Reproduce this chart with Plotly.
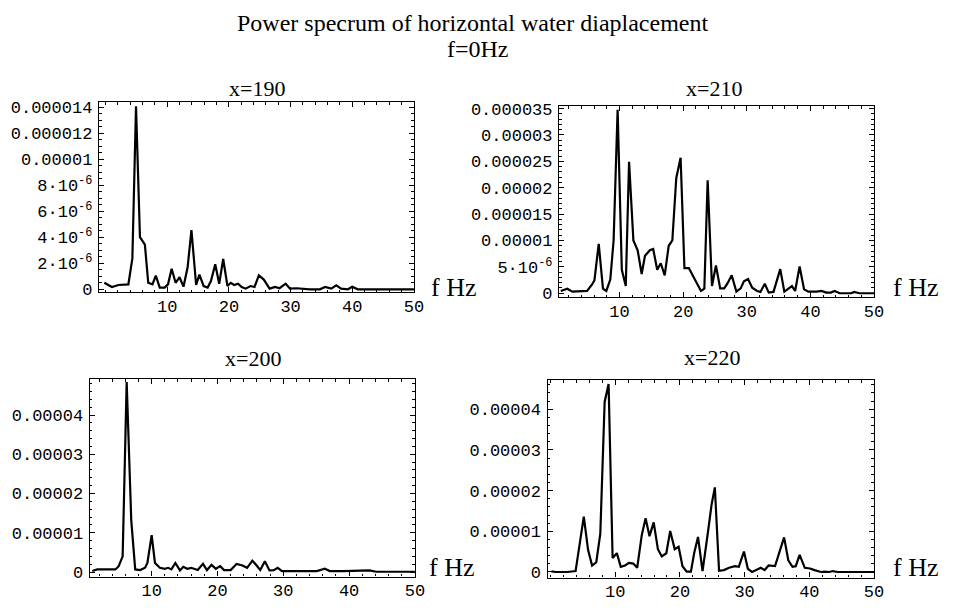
import plotly.graph_objects as go

# ---------------- data ----------------
# x = 190  (power in units of 1e-6)
f190 = [-0.21, 1.02, 2.09, 3.16, 3.69, 4.34, 4.93, 5.57, 6.37, 6.91, 7.6, 8.14, 8.78, 9.58,
        10.12, 10.71, 11.35, 11.99, 12.63, 13.3, 13.92, 14.68, 15.21, 15.9, 16.55, 17.08,
        17.78, 18.42, 19.07, 19.76, 20.3, 20.85, 21.48, 22.07, 22.7, 23.5, 24.15, 24.85,
        25.65, 26.6, 27.5, 28.2, 29.2, 29.9, 31.0, 33.1, 34.75, 35.6, 36.6, 37.4, 38.2,
        39.3, 40.0, 40.9, 50.0]
p190 = [0.50, 0.18, 0.33, 0.33, 0.38, 2.38, 14.1, 4.01, 3.44, 0.50, 0.38, 1.05, 0.13, 0.13,
        0.38, 1.58, 0.50, 0.93, 0.20, 1.70, 4.56, 0.33, 1.13, 0.25, 0.13, 0.63,
        1.93, 0.43, 2.33, 0.25, 0.50, 0.33, 0.43, 0.18, 0.05, 0.25, 0.18, 1.08,
        0.75, 0.05, 0.18, 0.08, 0.43, 0.05, 0.08, 0.0, 0.0, 0.18, 0.05, 0.30, 0.05,
        0.0, 0.20, 0.0, 0.0]

# x = 210  (power in units of 1e-6)
f210 = [0.77, 1.80, 2.58, 4.9, 5.69, 6.06, 6.73, 7.4, 7.92, 8.55, 9.07, 9.7, 10.36, 10.98,
        11.5, 12.18, 12.85, 13.48, 14.0, 14.77, 15.29, 15.92, 16.48, 17.1, 17.73, 18.3,
        18.92, 19.6, 20.2, 20.9, 22.8, 23.33, 23.85, 24.53, 25.15, 25.82, 26.45, 26.96,
        27.63, 28.36, 29.04, 29.55, 30.2, 30.85, 31.63, 32.15, 32.83, 33.45, 34.2, 35.26,
        35.9, 36.56, 37.1, 37.6, 38.3, 39.0, 39.67, 40.97, 41.75, 42.5, 43.2, 43.8, 44.6,
        46.4, 46.9, 47.7, 50.0]
p210 = [0.43, 0.86, 0.31, 0.43, 1.67, 2.47, 9.38, 0.86, 0.43, 2.6, 10.0, 34.8, 4.44, 1.36,
        24.9, 10.0, 8.15, 3.64, 7.1, 8.15, 8.4, 4.44, 5.68, 3.4, 9.0, 10.0,
        21.85, 25.7, 4.75, 4.75, 0.43, 0.86, 21.4, 1.36, 5.25, 0.93, 0.93, 1.85,
        3.4, 0.31, 0.93, 2.28, 2.7, 1.05, 0.43, 0.25, 1.79, 0.12, 0.25, 4.57,
        0.31, 0.86, 1.36, 0.43, 5.06, 0.74, 0.31, 0.31, 0.43, 0.12, 0.12, 0.43, 0.0,
        0.0, 0.25, 0.0, 0.0]

# x = 200  (power in units of 1e-6)
f200 = [0.98, 1.73, 4.49, 4.99, 5.59, 6.2, 6.9, 7.5, 8.25, 9.0, 9.35, 10.0, 10.5, 11.25,
        12.0, 12.5, 13.0, 13.6, 14.3, 14.8, 15.4, 16.0, 17.0, 17.8, 18.4, 19.1, 19.75,
        20.4, 21.0, 22.0, 22.9, 23.8, 24.5, 25.3, 25.95, 26.5, 27.2, 27.9, 28.55, 29.15,
        29.8, 32.05, 34.06, 35.1, 36.3, 37.07, 39.07, 41.1, 43.1, 44.1, 50.0]
p200 = [0.24, 0.66, 0.66, 1.49, 3.98, 48.4, 13.1, 0.66, 0.49, 1.1, 2.3, 9.4, 2.3, 1.07,
        0.82, 1.07, 0.66, 2.3, 0.41, 1.32, 0.82, 1.07, 0.49, 2.07, 0.49, 1.82, 0.82,
        1.49, 0.49, 0.49, 2.07, 1.66, 1.07, 2.9, 1.66, 0.49, 2.73, 0.41, 0.49, 1.07,
        0.24, 0.24, 0.41, 0.24, 0.82, 0.24, 0.24, 0.24, 0.41, 0.07, 0.07]

# x = 220  (power in units of 1e-6)
f220 = [0.16, 0.82, 2.6, 3.88, 5.15, 5.81, 6.43, 7.08, 7.7, 8.37, 8.98, 9.6, 10.26, 10.86,
        11.52, 12.13, 12.8, 13.4, 14.1, 14.7, 15.3, 15.95, 16.6, 17.2, 17.9, 18.5, 19.2,
        19.8, 20.4, 21.05, 21.7, 22.2, 22.8, 23.5, 24.3, 24.9, 25.4, 26.05, 26.8, 27.6,
        28.5, 29.1, 29.9, 30.5, 31.15, 31.9, 32.5, 33.1, 33.7, 34.7, 35.5, 36.1, 36.75,
        37.4, 37.9, 38.5, 39.3, 40.1, 40.8, 41.8, 42.35, 43.1, 43.6, 44.4, 47.5, 48.2,
        48.7, 50.0]
p220 = [0.15, 0.0, 0.0, 0.23, 13.6, 5.43, 1.59, 2.39, 9.4, 41.8, 46.2, 3.43, 4.63, 1.27,
        1.59, 2.23, 2.07, 1.03, 9.0, 13.2, 8.8, 12.2, 5.6, 3.83, 4.6, 10.1, 5.6,
        6.2, 1.43, 0.07, 0.07, 4.6, 8.6, 0.23, 9.4, 16.6, 20.8, 0.31, 0.47, 1.03,
        1.43, 1.27, 5.03, 0.79, 0.0, 0.47, 1.03, 0.47, 1.59, 1.43, 5.27, 8.5, 2.87,
        1.27, 1.43, 4.23, 1.03, 0.87, 0.47, 0.0, 0.07, 0.0, 0.23, 0.0, 0.0, 0.07,
        0.0, 0.0]

UNIT = 1e-6

x_ticks = [10, 20, 30, 40, 50]
x_tick_text = ["10", "20", "30", "40", "50"]

y190_ticks = [0, 2e-6, 4e-6, 6e-6, 8e-6, 1e-5, 1.2e-5, 1.4e-5]
y190_text = ["0", "2·10<sup>-6</sup>", "4·10<sup>-6</sup>", "6·10<sup>-6</sup>",
             "8·10<sup>-6</sup>", "0.00001", "0.000012", "0.000014"]
y210_ticks = [0, 5e-6, 1e-5, 1.5e-5, 2e-5, 2.5e-5, 3e-5, 3.5e-5]
y210_text = ["0", "5·10<sup>-6</sup>", "0.00001", "0.000015", "0.00002",
             "0.000025", "0.00003", "0.000035"]
y200_ticks = [0, 1e-5, 2e-5, 3e-5, 4e-5]
y200_text = ["0", "0.00001", "0.00002", "0.00003", "0.00004"]
y220_ticks = y200_ticks
y220_text = y200_text

main_title = "Power specrum of horizontal water diaplacement"
sub_title = "f=0Hz"
panel_titles = ["x=190", "x=210", "x=200", "x=220"]
axis_label = "f Hz"

# ---------------- figure ----------------
W, H = 954, 610
MONO = "Liberation Mono, Courier New, monospace"
SERIF = "Liberation Serif, Times New Roman, serif"

panels = [
    (f190, p190, (100, 418.3, 98.3, 293.0), [-1.08, 50], [-0.23e-6, 14.42e-6], y190_ticks, y190_text, 0.5e-6),
    (f210, p210, (565, 883.3, 102.7, 298.3), [0.5, 50], [-0.8e-6, 35.43e-6], y210_ticks, y210_text, 1e-6),
    (f200, p200, (90.7, 419.3, 381.7, 584.0), [0.59, 50], [-0.117e-5, 4.92e-5], y200_ticks, y200_text, 2e-6),
    (f220, p220, (553.3, 883.3, 382.7, 585.0), [-0.46, 50], [-0.137e-5, 4.72e-5], y220_ticks, y220_text, 2e-6),
]

layout = dict(
    width=W, height=H, margin=dict(l=0, r=0, t=0, b=0),
    paper_bgcolor="white", plot_bgcolor="white", showlegend=False,
)
traces = []
annotations = []

for i, (fx, py, box, xr, yr, yt, ytt, ymin) in enumerate(panels, start=1):
    x0, x1, yt0, yb0 = box
    xa = "xaxis" if i == 1 else f"xaxis{i}"
    ya = "yaxis" if i == 1 else f"yaxis{i}"
    xref = "x" if i == 1 else f"x{i}"
    yref = "y" if i == 1 else f"y{i}"
    traces.append(go.Scatter(x=fx, y=[v * UNIT for v in py], mode="lines",
                             line=dict(color="black", width=2.2), xaxis=xref, yaxis=yref,
                             hoverinfo="skip"))
    common = dict(showline=True, linecolor="black", linewidth=1.3, mirror="allticks",
                  ticks="inside", ticklen=5, tickwidth=1, tickcolor="black",
                  showgrid=False, zeroline=False, tickfont=dict(family=MONO, size=17, color="black"))
    layout[xa] = dict(domain=[x0 / W, x1 / W], range=xr, anchor=yref,
                      tickvals=x_ticks, ticktext=x_tick_text, ticklabelstandoff=-2,
                      minor=dict(ticks="inside", ticklen=2.5, dtick=2, tick0=0, tickcolor="black"),
                      **common)
    layout[ya] = dict(domain=[1 - yb0 / H, 1 - yt0 / H], range=yr, anchor=xref,
                      tickvals=yt, ticktext=ytt, ticklabelstandoff=2,
                      minor=dict(ticks="inside", ticklen=2.5, dtick=ymin, tick0=0, tickcolor="black"),
                      **common)

fig = go.Figure(data=traces)
fig.update_layout(**layout)

annotations.append(dict(text=main_title, x=477 / W, y=1 - 17 / H, xref="paper", yref="paper",
                        showarrow=False, font=dict(family=SERIF, size=24, color="black"),
                        xanchor="center", yanchor="middle"))
annotations.append(dict(text=sub_title, x=483 / W, y=1 - 44 / H, xref="paper", yref="paper",
                        showarrow=False, font=dict(family=SERIF, size=24, color="black"),
                        xanchor="center", yanchor="middle"))
title_pos = [(260, 84), (722, 84), (256, 361), (720, 360)]
for t, (tx, ty) in zip(panel_titles, title_pos):
    annotations.append(dict(text=t, x=tx / W, y=1 - ty / H, xref="paper", yref="paper",
                            showarrow=False, font=dict(family=SERIF, size=22, color="black"),
                            xanchor="center", yanchor="middle"))
fhz_pos = [(434, 288), (900, 288), (432, 575), (900, 575)]
for (tx, ty) in fhz_pos:
    annotations.append(dict(text=axis_label, x=tx / W, y=1 - ty / H, xref="paper", yref="paper",
                            showarrow=False, font=dict(family=SERIF, size=26, color="black"),
                            xanchor="left", yanchor="middle"))

fig.update_layout(annotations=annotations)
fig.write_html("out.html")
